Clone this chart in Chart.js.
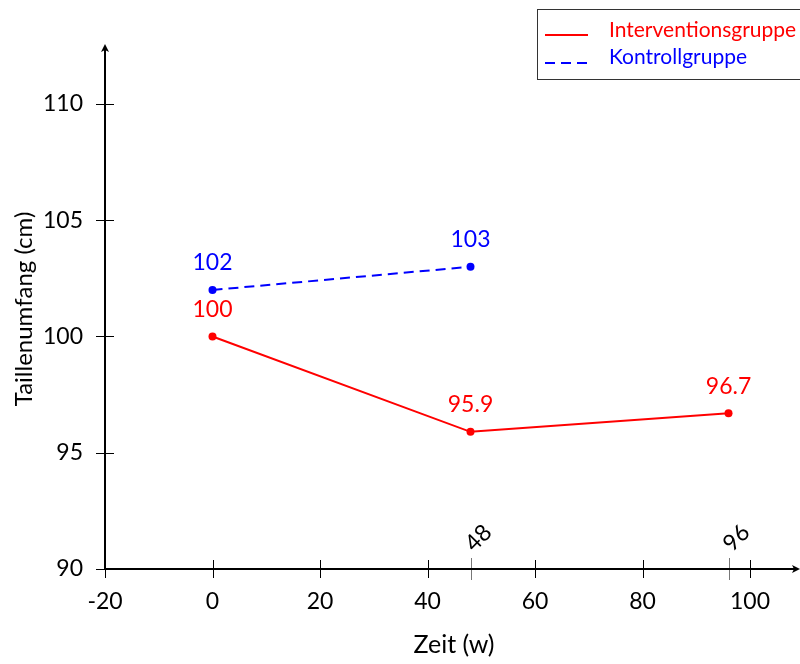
<!DOCTYPE html>
<html>
<head>
<meta charset="utf-8">
<script src="https://cdn.jsdelivr.net/npm/chart.js@4/dist/chart.umd.min.js"></script>
<style>
  html, body { margin: 0; padding: 0; background: #fff; }
  canvas { display: block; }
</style>
</head>
<body>
<canvas id="chart" width="800" height="664"></canvas>
<script>
// Data
const weeks = [0, 48, 96];
const interventionValues = [100, 95.9, 96.7];
const controlWeeks = [0, 48];
const controlValues = [102, 103];

// Axis ticks
const xTicks = [-20, 0, 20, 40, 60, 80, 100];
const yTicks = [90, 95, 100, 105, 110];
const extraXTicks = [48, 96];

const FONT = 'Lato, "DejaVu Sans", sans-serif';
const RED = 'rgb(255,0,0)';
const BLUE = 'rgb(0,0,255)';

function toPoints(xs, ys) {
    return xs.map((x, i) => ({ x: x, y: ys[i] }));
}

// Draws axes with arrows, ticks, tick labels, axis titles
const axesPlugin = {
    id: 'axes',
    beforeDatasetsDraw(chart) {
        const { ctx, chartArea: a, scales: { x, y } } = chart;
        const x0 = a.left;
        const y0 = a.bottom;
        ctx.save();

        // regular ticks, crossing the axis
        ctx.strokeStyle = '#000';
        ctx.lineWidth = 1;
        xTicks.forEach(v => {
            const px = Math.round(x.getPixelForValue(v)) + 0.5;
            ctx.beginPath();
            ctx.moveTo(px, y0 - 9);
            ctx.lineTo(px, y0 + 9);
            ctx.stroke();
        });
        yTicks.forEach(v => {
            const py = Math.round(y.getPixelForValue(v)) + 0.5;
            ctx.beginPath();
            ctx.moveTo(x0 - 9, py);
            ctx.lineTo(x0 + 9, py);
            ctx.stroke();
        });

        // extra grey ticks at measurement weeks
        ctx.strokeStyle = '#777';
        extraXTicks.forEach(v => {
            const px = Math.round(x.getPixelForValue(v)) + 0.5;
            ctx.beginPath();
            ctx.moveTo(px, y0 - 11);
            ctx.lineTo(px, y0 + 11);
            ctx.stroke();
        });

        // axis lines
        ctx.strokeStyle = '#000';
        ctx.fillStyle = '#000';
        ctx.lineWidth = 2;
        ctx.beginPath();
        ctx.moveTo(x0 - 1, y0);
        ctx.lineTo(a.right - 4, y0);
        ctx.moveTo(x0, y0 + 1);
        ctx.lineTo(x0, a.top + 4);
        ctx.stroke();

        // arrow heads
        ctx.beginPath();
        ctx.moveTo(a.right, y0);
        ctx.lineTo(a.right - 8, y0 - 4);
        ctx.lineTo(a.right - 6, y0);
        ctx.lineTo(a.right - 8, y0 + 4);
        ctx.closePath();
        ctx.fill();
        ctx.beginPath();
        ctx.moveTo(x0, a.top);
        ctx.lineTo(x0 - 4, a.top + 8);
        ctx.lineTo(x0, a.top + 6);
        ctx.lineTo(x0 + 4, a.top + 8);
        ctx.closePath();
        ctx.fill();

        // tick labels
        ctx.font = '23px ' + FONT;
        ctx.fillStyle = '#000';
        ctx.textAlign = 'center';
        ctx.textBaseline = 'middle';
        xTicks.forEach(v => {
            ctx.fillText(String(v), x.getPixelForValue(v), y0 + 33);
        });
        ctx.textAlign = 'right';
        yTicks.forEach(v => {
            ctx.fillText(String(v), x0 - 22, y.getPixelForValue(v));
        });

        // rotated labels for the extra ticks
        ctx.textAlign = 'center';
        extraXTicks.forEach(v => {
            ctx.save();
            ctx.translate(x.getPixelForValue(v) + 8, y0 - 31);
            ctx.rotate(-Math.PI / 4);
            ctx.fillText(String(v), 0, 0);
            ctx.restore();
        });

        // axis titles
        ctx.font = '25px ' + FONT;
        ctx.fillText('Zeit (w)', 454, 645);
        ctx.font = '24px ' + FONT;
        ctx.save();
        ctx.translate(24, 309);
        ctx.rotate(-Math.PI / 2);
        ctx.fillText('Taillenumfang (cm)', 0, 0);
        ctx.restore();

        ctx.restore();
    },
    afterDatasetsDraw(chart) {
        const { ctx } = chart;
        ctx.save();
        ctx.font = '23px ' + FONT;
        ctx.textAlign = 'center';
        ctx.textBaseline = 'middle';
        chart.data.datasets.forEach((ds, i) => {
            const meta = chart.getDatasetMeta(i);
            ctx.fillStyle = ds.borderColor;
            meta.data.forEach((pt, j) => {
                ctx.fillText(String(ds.data[j].y), pt.x, pt.y - 27);
            });
        });

        // legend box
        ctx.fillStyle = '#fff';
        ctx.fillRect(537, 9, 263, 71);
        ctx.strokeStyle = '#333';
        ctx.lineWidth = 1;
        ctx.strokeRect(537.5, 9.5, 270, 70);
        ctx.lineWidth = 2;
        ctx.strokeStyle = RED;
        ctx.beginPath();
        ctx.moveTo(545, 35);
        ctx.lineTo(588, 35);
        ctx.stroke();
        ctx.strokeStyle = BLUE;
        ctx.setLineDash([10, 6]);
        ctx.beginPath();
        ctx.moveTo(545, 63);
        ctx.lineTo(590, 63);
        ctx.stroke();
        ctx.setLineDash([]);
        ctx.font = '21px ' + FONT;
        ctx.textAlign = 'left';
        ctx.fillStyle = RED;
        ctx.fillText('Interventionsgruppe', 609, 30);
        ctx.fillStyle = BLUE;
        ctx.fillText('Kontrollgruppe', 609, 57);
        ctx.restore();
    }
};

new Chart(document.getElementById('chart'), {
    type: 'line',
    data: {
        datasets: [
            {
                label: 'Interventionsgruppe',
                data: toPoints(weeks, interventionValues),
                borderColor: RED,
                backgroundColor: RED,
                borderWidth: 2,
                pointRadius: 4,
                pointBorderWidth: 0,
                pointBackgroundColor: RED,
                tension: 0
            },
            {
                label: 'Kontrollgruppe',
                data: toPoints(controlWeeks, controlValues),
                borderColor: BLUE,
                backgroundColor: BLUE,
                borderWidth: 2,
                borderDash: [10, 6],
                pointRadius: 4,
                pointBorderWidth: 0,
                pointBackgroundColor: BLUE,
                tension: 0
            }
        ]
    },
    options: {
        responsive: false,
        animation: false,
        layout: { autoPadding: false, padding: { left: 105, right: 0, top: 44, bottom: 95 } },
        scales: {
            x: { type: 'linear', min: -20, max: 109.3, display: false },
            y: { type: 'linear', min: 90, max: 112.58, display: false }
        },
        plugins: {
            legend: { display: false },
            tooltip: { enabled: false }
        }
    },
    plugins: [axesPlugin]
});
</script>
</body>
</html>
